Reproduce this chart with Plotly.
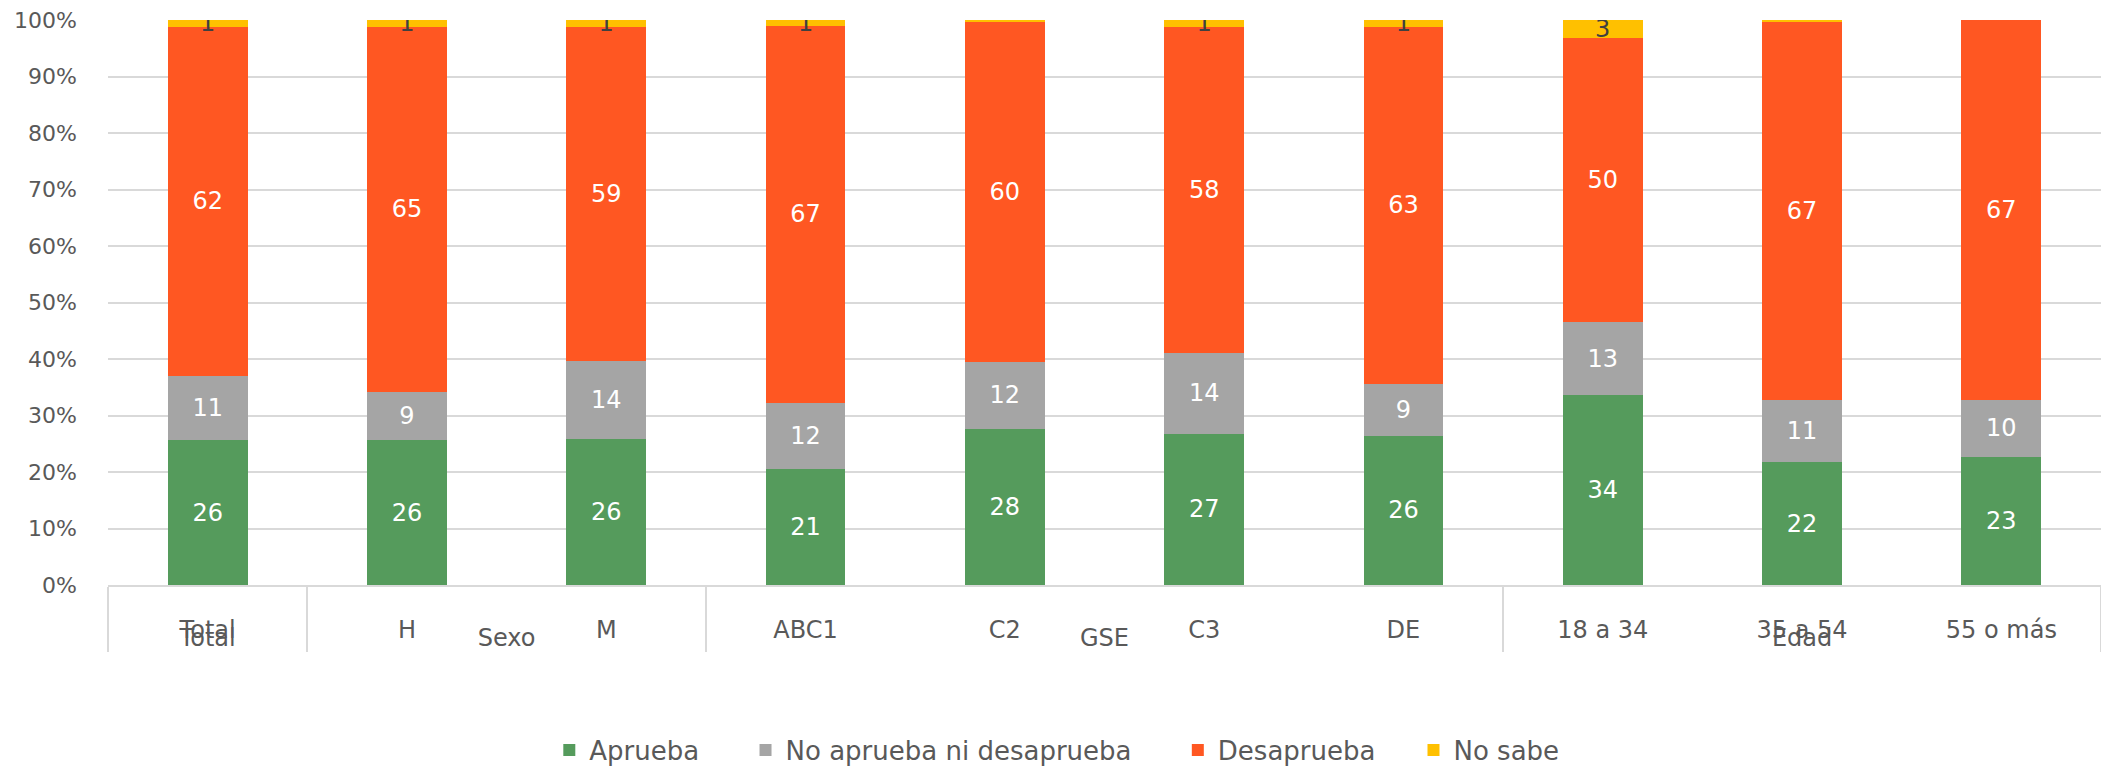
import plotly.graph_objects as go

# ==========================================================
# DATA
# ==========================================================

groups = ["Total", "Sexo", "Sexo", "GSE", "GSE", "GSE", "GSE", "Edad", "Edad", "Edad"]

categories = ["Total", "H", "M", "ABC1", "C2", "C3", "DE", "18 a 34", "35 a 54", "55 o más"]

aprueba = [25.6, 25.6, 25.9, 20.6, 27.7, 26.8, 26.4, 33.6, 21.7, 22.6]

ni_ni = [11.4, 8.6, 13.7, 11.6, 11.7, 14.3, 9.2, 12.9, 11.0, 10.2]

desaprueba = [61.8, 64.6, 59.2, 66.8, 60.3, 57.7, 63.2, 50.4, 66.9, 67.2]

no_sabe = [1.2, 1.2, 1.2, 1.0, 0.3, 1.2, 1.2, 3.1, 0.4, 0.0]

y_ticks = [0, 10, 20, 30, 40, 50, 60, 70, 80, 90, 100]

y_tick_labels = ["0%", "10%", "20%", "30%", "40%", "50%", "60%", "70%", "80%", "90%", "100%"]

series = [
    ("Aprueba", aprueba, "#559B5C", "#FFFFFF", 5),
    ("No aprueba ni desaprueba", ni_ni, "#A5A5A5", "#FFFFFF", 5),
    ("Desaprueba", desaprueba, "#FF5722", "#FFFFFF", 4),
    ("No sabe", no_sabe, "#FFC000", "#404040", 0),
]

FONT = "DejaVu Sans"
GREY = "#595959"

# ==========================================================
# FIGURE
# ==========================================================

fig = go.Figure()

for name, values, color, text_color, pad in series:

    labels = [f"{v:.0f}" if v >= 0.5 else "" for v in values]

    fig.add_trace(
        go.Bar(
            x=[groups, categories],
            y=values,
            name=name + "\u00a0" * pad,
            marker=dict(color=color, line=dict(width=0)),
            text=labels,
            textposition="inside",
            insidetextanchor="middle",
            textangle=0,
            constraintext="none",
            textfont=dict(family=FONT, size=24, color=text_color),
        )
    )

fig.update_layout(
    barmode="stack",
    bargap=0.6,
    width=2101,
    height=767,
    margin=dict(l=108, r=0, t=20, b=182, autoexpand=False),
    plot_bgcolor="white",
    paper_bgcolor="white",
    font=dict(family=FONT, size=22, color=GREY),
    showlegend=True,
    legend=dict(
        orientation="h",
        xref="container",
        x=0.503,
        xanchor="center",
        y=-0.292,
        yanchor="middle",
        font=dict(family=FONT, size=26, color=GREY),
        itemwidth=30,
        traceorder="normal",
    ),
)

fig.update_yaxes(
    range=[0, 100],
    tickmode="array",
    tickvals=y_ticks,
    ticktext=y_tick_labels,
    showgrid=True,
    gridcolor="#D9D9D9",
    gridwidth=1.5,
    zeroline=False,
    showline=False,
    ticks="",
    ticklabelstandoff=30,
    automargin=False,
    tickfont=dict(family=FONT, size=22, color=GREY),
)

fig.update_xaxes(
    type="multicategory",
    showline=True,
    linecolor="#D9D9D9",
    linewidth=1.5,
    showdividers=True,
    dividercolor="#D9D9D9",
    dividerwidth=1.5,
    ticks="",
    ticklabelstandoff=22,
    automargin=False,
    tickfont=dict(family=FONT, size=24, color=GREY),
)

fig.write_html(
    "out.html",
    config={"displayModeBar": False},
    post_script="document.body.style.margin = '0';",
)
